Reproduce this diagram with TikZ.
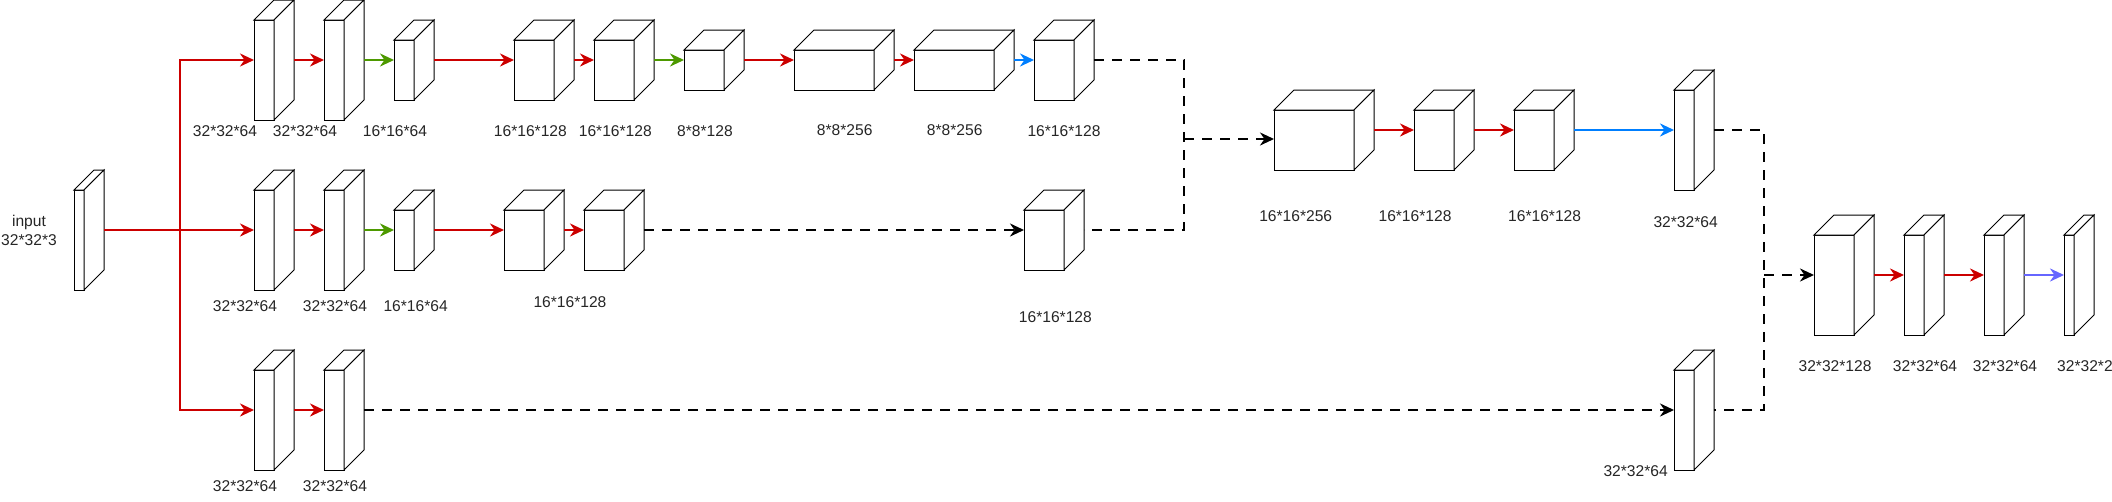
\documentclass[tikz,border=0pt]{standalone}
\usepackage{fontspec}
\setmainfont{Liberation Sans}
\usetikzlibrary{arrows.meta}
\definecolor{cred}{HTML}{CC0000}
\definecolor{cgreen}{HTML}{4D9900}
\definecolor{cblue}{HTML}{007FFF}
\definecolor{cpurple}{HTML}{6666FF}
\tikzset{
  cubebox/.style={rectangle, inner sep=0pt, outer sep=0pt, anchor=north west},
  boxline/.style={draw=black, fill=white, line width=1pt, line join=miter},
  conn/.style={line width=2.8pt, -{Stealth[length=14pt,width=13pt,inset=4.5pt]}},
  ra/.style={conn, draw=cred},
  ga/.style={conn, draw=cgreen},
  ba/.style={conn, draw=cblue},
  pa/.style={conn, draw=cpurple},
  dl/.style={line width=2.8pt, draw=black, dash pattern=on 10pt off 8pt},
  da/.style={dl, -{Stealth[length=14pt,width=13pt,inset=4.5pt]}},
  lbl/.style={font=\fontsize{15.6}{18.7}\selectfont, inner sep=0pt, text=black!85},
}
% name, front-left x, front-top y, width, height (pixels)
\newcommand\mkcube[5]{%
  \node[cubebox, minimum width={(#4+20)*1pt}, minimum height={(#5+20)*1pt}] (#1) at (#2,#3-20) {};
  \filldraw[boxline] (#1.south west) rectangle ([shift={(-20pt,-20pt)}]#1.north east);
  \filldraw[boxline] ([yshift=-20pt]#1.north west) -- ([xshift=20pt]#1.north west) -- (#1.north east) -- ([shift={(-20pt,-20pt)}]#1.north east) -- cycle;
  \filldraw[boxline] (#1.north east) -- ([yshift=20pt]#1.south east) -- ([xshift=-20pt]#1.south east) -- ([shift={(-20pt,-20pt)}]#1.north east) -- cycle;
}
\begin{document}
\begin{tikzpicture}[x=1pt,y=-1pt]
\useasboundingbox[fill=white] (0,0) rectangle (2112,501);

% input
\mkcube{in}{74}{190}{10}{100}
\node[lbl, align=center] (tin) at (29,230.7) {input\\32*32*3};

% row 1
\mkcube{a1}{254}{20}{20}{100}
\mkcube{a2}{324}{20}{20}{100}
\mkcube{a3}{394}{40}{20}{60}
\mkcube{a4}{514}{40}{40}{60}
\mkcube{a5}{594}{40}{40}{60}
\mkcube{a6}{684}{50}{40}{40}
\mkcube{a7}{794}{50}{80}{40}
\mkcube{a8}{914}{50}{80}{40}
\mkcube{a9}{1034}{40}{40}{60}

% row 2
\mkcube{b1}{254}{190}{20}{100}
\mkcube{b2}{324}{190}{20}{100}
\mkcube{b3}{394}{210}{20}{60}
\mkcube{b4}{504}{210}{40}{60}
\mkcube{b5}{584}{210}{40}{60}
\mkcube{b6}{1024}{210}{40}{60}

% row 3
\mkcube{c1}{254}{370}{20}{100}
\mkcube{c2}{324}{370}{20}{100}
\mkcube{c3}{1674}{370}{20}{100}

% middle
\mkcube{m1}{1274}{110}{80}{60}
\mkcube{m2}{1414}{110}{40}{60}
\mkcube{m3}{1514}{110}{40}{60}
\mkcube{m4}{1674}{90}{20}{100}

% final
\mkcube{f1}{1814}{235}{40}{100}
\mkcube{f2}{1904}{235}{20}{100}
\mkcube{f3}{1984}{235}{20}{100}
\mkcube{f4}{2064}{235}{10}{100}

% labels row 1
\node[lbl] (la1) at (225,131.5) {32*32*64};
\node[lbl] (la2) at (305,131.5) {32*32*64};
\node[lbl] (la3) at (395,131.5) {16*16*64};
\node[lbl] (la4) at (530.4,131) {16*16*128};
\node[lbl] (la5) at (615.3,131) {16*16*128};
\node[lbl] (la6) at (705,131) {8*8*128};
\node[lbl] (la7) at (844.7,130) {8*8*256};
\node[lbl] (la8) at (954.7,130) {8*8*256};
\node[lbl] (la9) at (1064,131) {16*16*128};

% labels row 2
\node[lbl] (lb1) at (245,305.7) {32*32*64};
\node[lbl] (lb2) at (335,305.7) {32*32*64};
\node[lbl] (lb3) at (415.6,305.7) {16*16*64};
\node[lbl] (lb4) at (570,301.7) {16*16*128};
\node[lbl] (lb6) at (1055.4,316.7) {16*16*128};

% labels row 3
\node[lbl] (lc1) at (245,486) {32*32*64};
\node[lbl] (lc2) at (335,486) {32*32*64};
\node[lbl] (lc3) at (1635.6,471) {32*32*64};

% labels middle
\node[lbl] (lm1) at (1295.7,216) {16*16*256};
\node[lbl] (lm2) at (1415,216) {16*16*128};
\node[lbl] (lm3) at (1544.6,216) {16*16*128};
\node[lbl] (lm4) at (1685.6,221.7) {32*32*64};

% labels final
\node[lbl] (lf1) at (1835,365.7) {32*32*128};
\node[lbl] (lf2) at (1925,365.7) {32*32*64};
\node[lbl] (lf3) at (2005,365.7) {32*32*64};
\node[lbl, anchor=west] (lf4) at (2057,365.7) {32*32*2};

% input branches
\coordinate (J) at (180,230);
\draw[ra] (in.east) -- (b1.west);
\draw[ra] (J) |- (a1.west);
\draw[ra] (J) |- (c1.west);

% row 1 connectors
\draw[ra] (a1.east) -- (a2.west);
\draw[ga] (a2.east) -- (a3.west);
\draw[ra] (a3.east) -- (a4.west);
\draw[ra] (a4.east) -- (a5.west);
\draw[ga] (a5.east) -- (a6.west);
\draw[ra] (a6.east) -- (a7.west);
\draw[ra] (a7.east) -- (a8.west);
\draw[ba] (a8.east) -- (a9.west);

% row 2 connectors
\draw[ra] (b1.east) -- (b2.west);
\draw[ga] (b2.east) -- (b3.west);
\draw[ra] (b3.east) -- (b4.west);
\draw[ra] (b4.east) -- (b5.west);
\draw[da] (b5.east) -- (b6.west);

% row 3 connectors
\draw[ra] (c1.east) -- (c2.west);
\draw[da] (c2.east) -- (c3.west);

% first merge
\coordinate (K2) at (1184,230);
\coordinate (K) at (1184,139);
\draw[dl] (a9.east) -| (K2) -- (b6.east);
\draw[da] (K) -- (K -| m1.west);

% middle connectors
\draw[ra] (m1.east) -- (m2.west);
\draw[ra] (m2.east) -- (m3.west);
\draw[ba] (m3.east) -- (m4.west);

% second merge
\coordinate (L2) at (1764,410);
\coordinate (L) at (1764,275);
\draw[dl] (m4.east) -| (L2) -- (c3.east);
\draw[da] (L) -- (L -| f1.west);

% final connectors
\draw[ra] (f1.east) -- (f2.west);
\draw[ra] (f2.east) -- (f3.west);
\draw[pa] (f3.east) -- (f4.west);
\end{tikzpicture}
\end{document}
